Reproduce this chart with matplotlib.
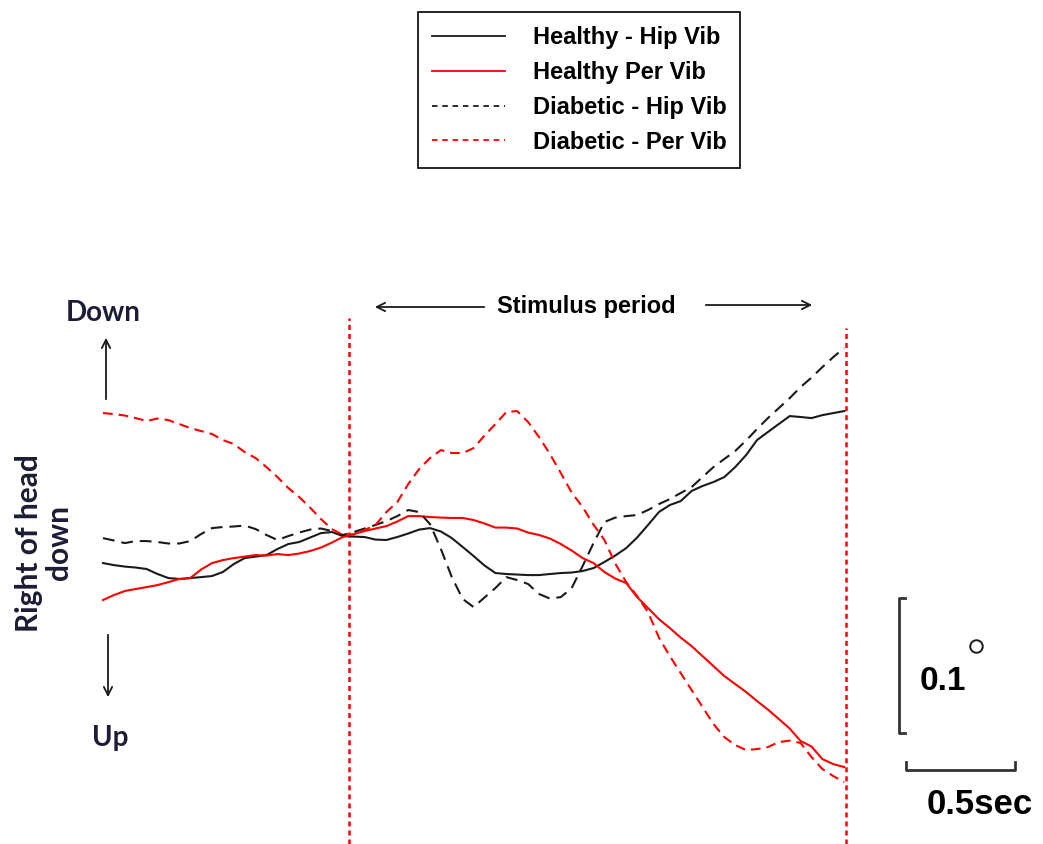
import matplotlib
matplotlib.use("Agg")
import matplotlib.pyplot as plt
from matplotlib.lines import Line2D

plt.rcParams["lines.scale_dashes"] = False

# Head roll traces (degrees; positive = right of head down), sampled every 0.05 s
time_s = [0.0, 0.05, 0.1, 0.15, 0.2, 0.25, 0.3, 0.35, 0.4, 0.45,
          0.5, 0.55, 0.6, 0.65, 0.7, 0.75, 0.8, 0.85, 0.9, 0.95,
          1.0, 1.05, 1.1, 1.15, 1.2, 1.25, 1.3, 1.35, 1.4, 1.45,
          1.5, 1.55, 1.6, 1.65, 1.7, 1.75, 1.8, 1.85, 1.9, 1.95,
          2.0, 2.05, 2.1, 2.15, 2.2, 2.25, 2.3, 2.35, 2.4, 2.45,
          2.5, 2.55, 2.6, 2.65, 2.7, 2.75, 2.8, 2.85, 2.9, 2.95,
          3.0, 3.05, 3.1, 3.15, 3.2, 3.25, 3.3, 3.35, 3.4]

healthy_hip = [-0.0215, -0.0230, -0.0241, -0.0248, -0.0259, -0.0296, -0.0326, -0.0333, -0.0326, -0.0319,
               -0.0311, -0.0281, -0.0222, -0.0178, -0.0167, -0.0156, -0.0111, -0.0074, -0.0059, -0.0026,
               0.0007, 0.0015, -0.0015, -0.0019, -0.0022, -0.0041, -0.0044, -0.0022, 0.0004, 0.0033,
               0.0044, 0.0019, -0.0030, -0.0096, -0.0163, -0.0233, -0.0289, -0.0296, -0.0300, -0.0304,
               -0.0304, -0.0296, -0.0289, -0.0285, -0.0274, -0.0252, -0.0207, -0.0159, -0.0104, -0.0026,
               0.0067, 0.0163, 0.0215, 0.0244, 0.0319, 0.0356, 0.0385, 0.0422, 0.0496, 0.0585,
               0.0696, 0.0756, 0.0815, 0.0874, 0.0867, 0.0859, 0.0881, 0.0896, 0.0911]

healthy_per = [-0.0489, -0.0452, -0.0422, -0.0407, -0.0393, -0.0378, -0.0356, -0.0333, -0.0326, -0.0263,
               -0.0215, -0.0193, -0.0178, -0.0167, -0.0156, -0.0159, -0.0148, -0.0156, -0.0144, -0.0126,
               -0.0100, -0.0063, -0.0022, 0.0000, 0.0022, 0.0041, 0.0059, 0.0093, 0.0133, 0.0133,
               0.0126, 0.0122, 0.0119, 0.0119, 0.0104, 0.0078, 0.0048, 0.0048, 0.0041, 0.0011,
               -0.0007, -0.0033, -0.0074, -0.0122, -0.0178, -0.0215, -0.0281, -0.0330, -0.0363, -0.0467,
               -0.0548, -0.0630, -0.0696, -0.0767, -0.0830, -0.0904, -0.0978, -0.1052, -0.1111, -0.1170,
               -0.1237, -0.1300, -0.1370, -0.1441, -0.1533, -0.1574, -0.1667, -0.1704, -0.1726]

diabetic_hip = [-0.0030, -0.0048, -0.0067, -0.0052, -0.0052, -0.0059, -0.0070, -0.0070, -0.0052, 0.0000,
                0.0044, 0.0052, 0.0056, 0.0063, 0.0037, -0.0007, -0.0044, -0.0015, 0.0011, 0.0033,
                0.0041, 0.0022, -0.0007, 0.0015, 0.0041, 0.0067, 0.0096, 0.0133, 0.0178, 0.0163,
                0.0074, -0.0111, -0.0319, -0.0481, -0.0541, -0.0470, -0.0400, -0.0319, -0.0341, -0.0370,
                -0.0444, -0.0478, -0.0467, -0.0400, -0.0237, -0.0067, 0.0089, 0.0122, 0.0133, 0.0141,
                0.0178, 0.0222, 0.0259, 0.0304, 0.0348, 0.0422, 0.0496, 0.0556, 0.0615, 0.0693,
                0.0778, 0.0859, 0.0933, 0.1007, 0.1089, 0.1159, 0.1237, 0.1311, 0.1378]

diabetic_per = [0.0896, 0.0889, 0.0878, 0.0859, 0.0837, 0.0856, 0.0844, 0.0815, 0.0785, 0.0763,
                0.0741, 0.0696, 0.0667, 0.0607, 0.0563, 0.0496, 0.0422, 0.0341, 0.0274, 0.0196,
                0.0111, 0.0037, -0.0007, -0.0004, 0.0030, 0.0067, 0.0163, 0.0237, 0.0370, 0.0481,
                0.0563, 0.0622, 0.0600, 0.0600, 0.0637, 0.0730, 0.0815, 0.0904, 0.0911, 0.0830,
                0.0719, 0.0593, 0.0452, 0.0307, 0.0200, 0.0070, -0.0044, -0.0219, -0.0356, -0.0459,
                -0.0578, -0.0767, -0.0904, -0.1030, -0.1156, -0.1281, -0.1407, -0.1504, -0.1563, -0.1600,
                -0.1593, -0.1578, -0.1541, -0.1530, -0.1548, -0.1652, -0.1741, -0.1793, -0.1837]

series_labels = ["Healthy - Hip Vib", "Healthy Per Vib", "Diabetic - Hip Vib", "Diabetic - Per Vib"]

stimulus_on_s = 1.13
stimulus_off_s = 3.41
scale_deg = 0.1
scale_sec = 0.5

W, H = 1043, 844
fig = plt.figure(figsize=(W / 100, H / 100), dpi=100)
ax = fig.add_axes([0, 0, 1, 1])
ax.set_xlim(-0.4725, 4.3119)
ax.set_ylim(-0.2296, 0.3956)
ax.axis("off")

BLACK = "#1a1a1a"
RED = "#ff0000"
BOLD = dict(family="Liberation Sans", weight="bold")
LATO = dict(family="Lato", weight="bold")


def fpx(x, y):
    """Pixel position measured from the top-left corner -> figure pixels."""
    return (x, H - y)


# Stimulus onset / offset markers
ymin = ax.get_ylim()[0]
ax.plot([stimulus_on_s, stimulus_on_s], [ymin, 0.160], color=RED, lw=1.8, dashes=(3.6, 2.9))
ax.plot([stimulus_off_s, stimulus_off_s], [ymin, 0.153], color=RED, lw=1.8, dashes=(3.6, 2.9))

# Traces
LW = 1.5
ax.plot(time_s, healthy_hip, color=BLACK, lw=LW)
ax.plot(time_s, healthy_per, color=RED, lw=LW)
ax.plot(time_s, diabetic_hip, color=BLACK, lw=LW, dashes=(8.5, 5))
ax.plot(time_s, diabetic_per, color=RED, lw=LW, dashes=(7, 4.3))

# Legend (handles drawn with a finer dash pattern)
handles = [
    Line2D([], [], color=BLACK, lw=1.3),
    Line2D([], [], color=RED, lw=1.3),
    Line2D([], [], color=BLACK, lw=1.3, dashes=(4, 3.4)),
    Line2D([], [], color=RED, lw=1.3, dashes=(4, 3.4)),
]
leg = fig.legend(handles, series_labels, loc="upper left", bbox_to_anchor=(418 / W, 1 - 12 / H),
                 borderaxespad=0, prop=dict(family="Liberation Sans", weight="bold", size=17),
                 handlelength=3.1, handletextpad=1.15, labelspacing=0.5, borderpad=0.6,
                 fancybox=False, framealpha=1, edgecolor="black")
leg.get_frame().set_linewidth(1.2)

# Stimulus period annotation
fig.text(586 / W, 1 - 306 / H, "Stimulus period", ha="center", va="center", size=17, **BOLD)
arrow = dict(arrowstyle="->,head_length=0.6,head_width=0.3", color=BLACK, lw=1.3)
ax.annotate("", xy=fpx(372, 307), xytext=fpx(487, 307), xycoords="figure pixels",
            textcoords="figure pixels", arrowprops=arrow)
ax.annotate("", xy=fpx(815, 305), xytext=fpx(703, 305), xycoords="figure pixels",
            textcoords="figure pixels", arrowprops=arrow)

# Direction labels
TXT = "#1c1c34"
fig.text(103 / W, 1 - 313 / H, "Down", ha="center", va="center", size=20, color=TXT, **LATO)
ax.annotate("", xy=fpx(106, 335), xytext=fpx(106, 402), xycoords="figure pixels",
            textcoords="figure pixels", arrowprops=arrow)
fig.text(110 / W, 1 - 738 / H, "Up", ha="center", va="center", size=20, color=TXT, **LATO)
ax.annotate("", xy=fpx(108, 700), xytext=fpx(108, 632), xycoords="figure pixels",
            textcoords="figure pixels", arrowprops=arrow)
fig.text(44 / W, 1 - 543 / H, "Right of head\ndown", ha="center", va="center", rotation=90,
         size=21.5, color=TXT, multialignment="center", linespacing=1.1, **LATO)

# Scale bars: 0.1 degree (vertical) and 0.5 s (horizontal)
SCALE = "#333333"
vb_t = 3.651
vb_y0 = -0.1474
tick_t = 0.028
ax.plot([vb_t + tick_t, vb_t, vb_t, vb_t + tick_t],
        [vb_y0 + scale_deg, vb_y0 + scale_deg, vb_y0, vb_y0], color=SCALE, lw=2)
hb_t0 = 3.683
hb_y = -0.1748
tick_y = 0.006
ax.plot([hb_t0, hb_t0, hb_t0 + scale_sec, hb_t0 + scale_sec],
        [hb_y + tick_y, hb_y, hb_y, hb_y + tick_y], color=SCALE, lw=2)

fig.text(943 / W, 1 - 682 / H, "0.1", ha="center", va="center", size=24, color="black", **BOLD)
fig.add_artist(Line2D([976 / W], [1 - 646 / H], marker="o", markersize=9, markerfacecolor="white",
                      markeredgecolor=BLACK, markeredgewidth=1.4, transform=fig.transFigure))
fig.text(980 / W, 1 - 805 / H, "0.5sec", ha="center", va="center", size=25, color="black", **BOLD)

fig.savefig("out.png", dpi=100)
